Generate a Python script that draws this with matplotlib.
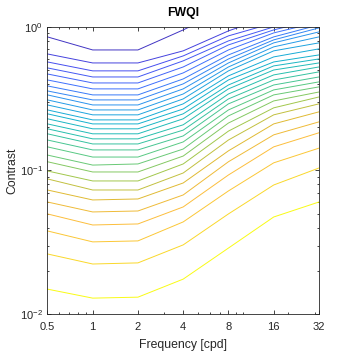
import numpy as np
import matplotlib
matplotlib.use("Agg")
import matplotlib.pyplot as plt
from matplotlib.colors import LinearSegmentedColormap
from matplotlib.ticker import FixedLocator, FixedFormatter, LogLocator, NullFormatter

plt.rcParams['font.family'] = ['Liberation Sans', 'DejaVu Sans']

# spatial frequencies (cpd) where the iso-quality lines are sampled
freq = [0.5, 1, 2, 4, 8, 16, 32]
nan = np.nan

# contrast of each FWQI iso-line, top to bottom
line_01 = [0.852, 0.691, 0.691, 0.953, 1.356, nan, nan]
line_02 = [0.648, 0.561, 0.561, 0.681, 0.938, 1.212, nan]
line_03 = [0.570, 0.494, 0.494, 0.628, 0.866, 1.066, 1.314]
line_04 = [0.518, 0.448, 0.448, 0.580, 0.799, 1.000, 1.212]
line_05 = [0.470, 0.407, 0.407, 0.526, 0.749, 0.953, 1.137]
line_06 = [0.427, 0.370, 0.370, 0.478, 0.691, 0.908, 1.083]
line_07 = [0.388, 0.336, 0.336, 0.434, 0.638, 0.852, 1.033]
line_08 = [0.358, 0.310, 0.310, 0.401, 0.598, 0.812, 0.984]
line_09 = [0.336, 0.286, 0.286, 0.370, 0.561, 0.774, 0.923]
line_10 = [0.310, 0.264, 0.264, 0.341, 0.526, 0.726, 0.852]
line_11 = [0.286, 0.244, 0.244, 0.315, 0.494, 0.681, 0.774]
line_12 = [0.264, 0.225, 0.225, 0.291, 0.456, 0.618, 0.703]
line_13 = [0.248, 0.211, 0.211, 0.268, 0.427, 0.570, 0.638]
line_14 = [0.229, 0.195, 0.195, 0.248, 0.394, 0.535, 0.598]
line_15 = [0.211, 0.180, 0.180, 0.229, 0.370, 0.501, 0.561]
line_16 = [0.195, 0.166, 0.166, 0.208, 0.341, 0.463, 0.526]
line_17 = [0.180, 0.153, 0.153, 0.191, 0.315, 0.427, 0.486]
line_18 = [0.163, 0.139, 0.139, 0.174, 0.291, 0.394, 0.448]
line_19 = [0.146, 0.124, 0.124, 0.158, 0.264, 0.364, 0.414]
line_20 = [0.128, 0.109, 0.111, 0.141, 0.240, 0.336, 0.382]
line_21 = [0.115, 0.0976, 0.0976, 0.126, 0.214, 0.305, 0.352]
line_22 = [0.0992, 0.0845, 0.0845, 0.111, 0.188, 0.273, 0.325]
line_23 = [0.0873, 0.0731, 0.0731, 0.0960, 0.163, 0.244, 0.291]
line_24 = [0.0731, 0.0623, 0.0633, 0.0818, 0.137, 0.211, 0.256]
line_25 = [0.0603, 0.0514, 0.0522, 0.0675, 0.115, 0.177, 0.218]
line_26 = [0.0498, 0.0417, 0.0424, 0.0557, 0.0930, 0.146, 0.183]
line_27 = [0.0379, 0.0318, 0.0323, 0.0438, 0.0720, 0.113, 0.143]
line_28 = [0.0262, 0.0223, 0.0227, 0.0303, 0.0498, 0.0792, 0.104]
line_29 = [0.0149, 0.0129, 0.0131, 0.0175, 0.0288, 0.0474, 0.0603]

lines = [line_01, line_02, line_03, line_04, line_05, line_06, line_07, line_08,
         line_09, line_10, line_11, line_12, line_13, line_14, line_15, line_16,
         line_17, line_18, line_19, line_20, line_21, line_22, line_23, line_24,
         line_25, line_26, line_27, line_28, line_29]

# normalised FWQI level of each line (drives its colour)
line_level = [0.04, 0.08, 0.11, 0.14, 0.17, 0.20, 0.23, 0.26, 0.29, 0.32,
              0.35, 0.38, 0.41, 0.44, 0.47, 0.50, 0.53, 0.56, 0.59, 0.62,
              0.66, 0.70, 0.75, 0.80, 0.83, 0.86, 0.89, 0.93, 1.00]

xtick_vals = [0.5, 1, 2, 4, 8, 16, 32]
xtick_labels = ['0.5', '1', '2', '4', '8', '16', '32']

# parula (newer MATLAB) approximation
parula = LinearSegmentedColormap.from_list('parula', [
    (0.00, (0.2422, 0.1504, 0.6603)),
    (0.10, (0.2780, 0.2900, 0.9300)),
    (0.20, (0.2440, 0.4350, 0.9940)),
    (0.30, (0.1540, 0.5900, 0.9220)),
    (0.40, (0.0780, 0.6900, 0.8200)),
    (0.50, (0.1500, 0.7500, 0.6800)),
    (0.60, (0.3600, 0.7900, 0.5000)),
    (0.70, (0.6300, 0.7800, 0.3000)),
    (0.80, (0.8800, 0.7300, 0.2000)),
    (0.86, (0.9900, 0.7400, 0.2400)),
    (0.92, (0.9800, 0.8200, 0.1800)),
    (1.00, (0.9769, 0.9839, 0.0805))])

fig = plt.figure(figsize=(3.54, 3.54), dpi=100)
ax = fig.add_axes([0.134, 0.113, 0.767, 0.811])

for c, lev in zip(lines, line_level):
    ax.plot(freq, c, color=parula(lev), lw=0.7)

ax.set_xscale('log')
ax.set_yscale('log')
ax.set_xlim(0.5, 32)
ax.set_ylim(0.01, 1)

ax.xaxis.set_major_locator(FixedLocator(xtick_vals))
ax.xaxis.set_major_formatter(FixedFormatter(xtick_labels))
ax.xaxis.set_minor_locator(LogLocator(base=10, subs=np.arange(1, 10)))
ax.xaxis.set_minor_formatter(NullFormatter())
ax.yaxis.set_minor_locator(LogLocator(base=10, subs=np.arange(2, 10)))
ax.yaxis.set_minor_formatter(NullFormatter())

ax.tick_params(which='both', direction='in', top=True, right=True,
               colors='#262626', labelsize=8, width=0.6)
ax.tick_params(which='major', length=3)
ax.tick_params(which='minor', length=1.6)
ax.tick_params(axis='x', which='major', pad=5.5)
for s in ax.spines.values():
    s.set_color('#262626')
    s.set_linewidth(0.6)

ax.set_xlabel('Frequency [cpd]', fontsize=8.8, color='#262626', labelpad=5)
ax.set_ylabel('Contrast', fontsize=8.8, color='#262626', labelpad=1)
ax.set_title('FWQI', fontsize=8.8, fontweight='bold', color='black', pad=7.5)

fig.savefig('out.png', dpi=100)
